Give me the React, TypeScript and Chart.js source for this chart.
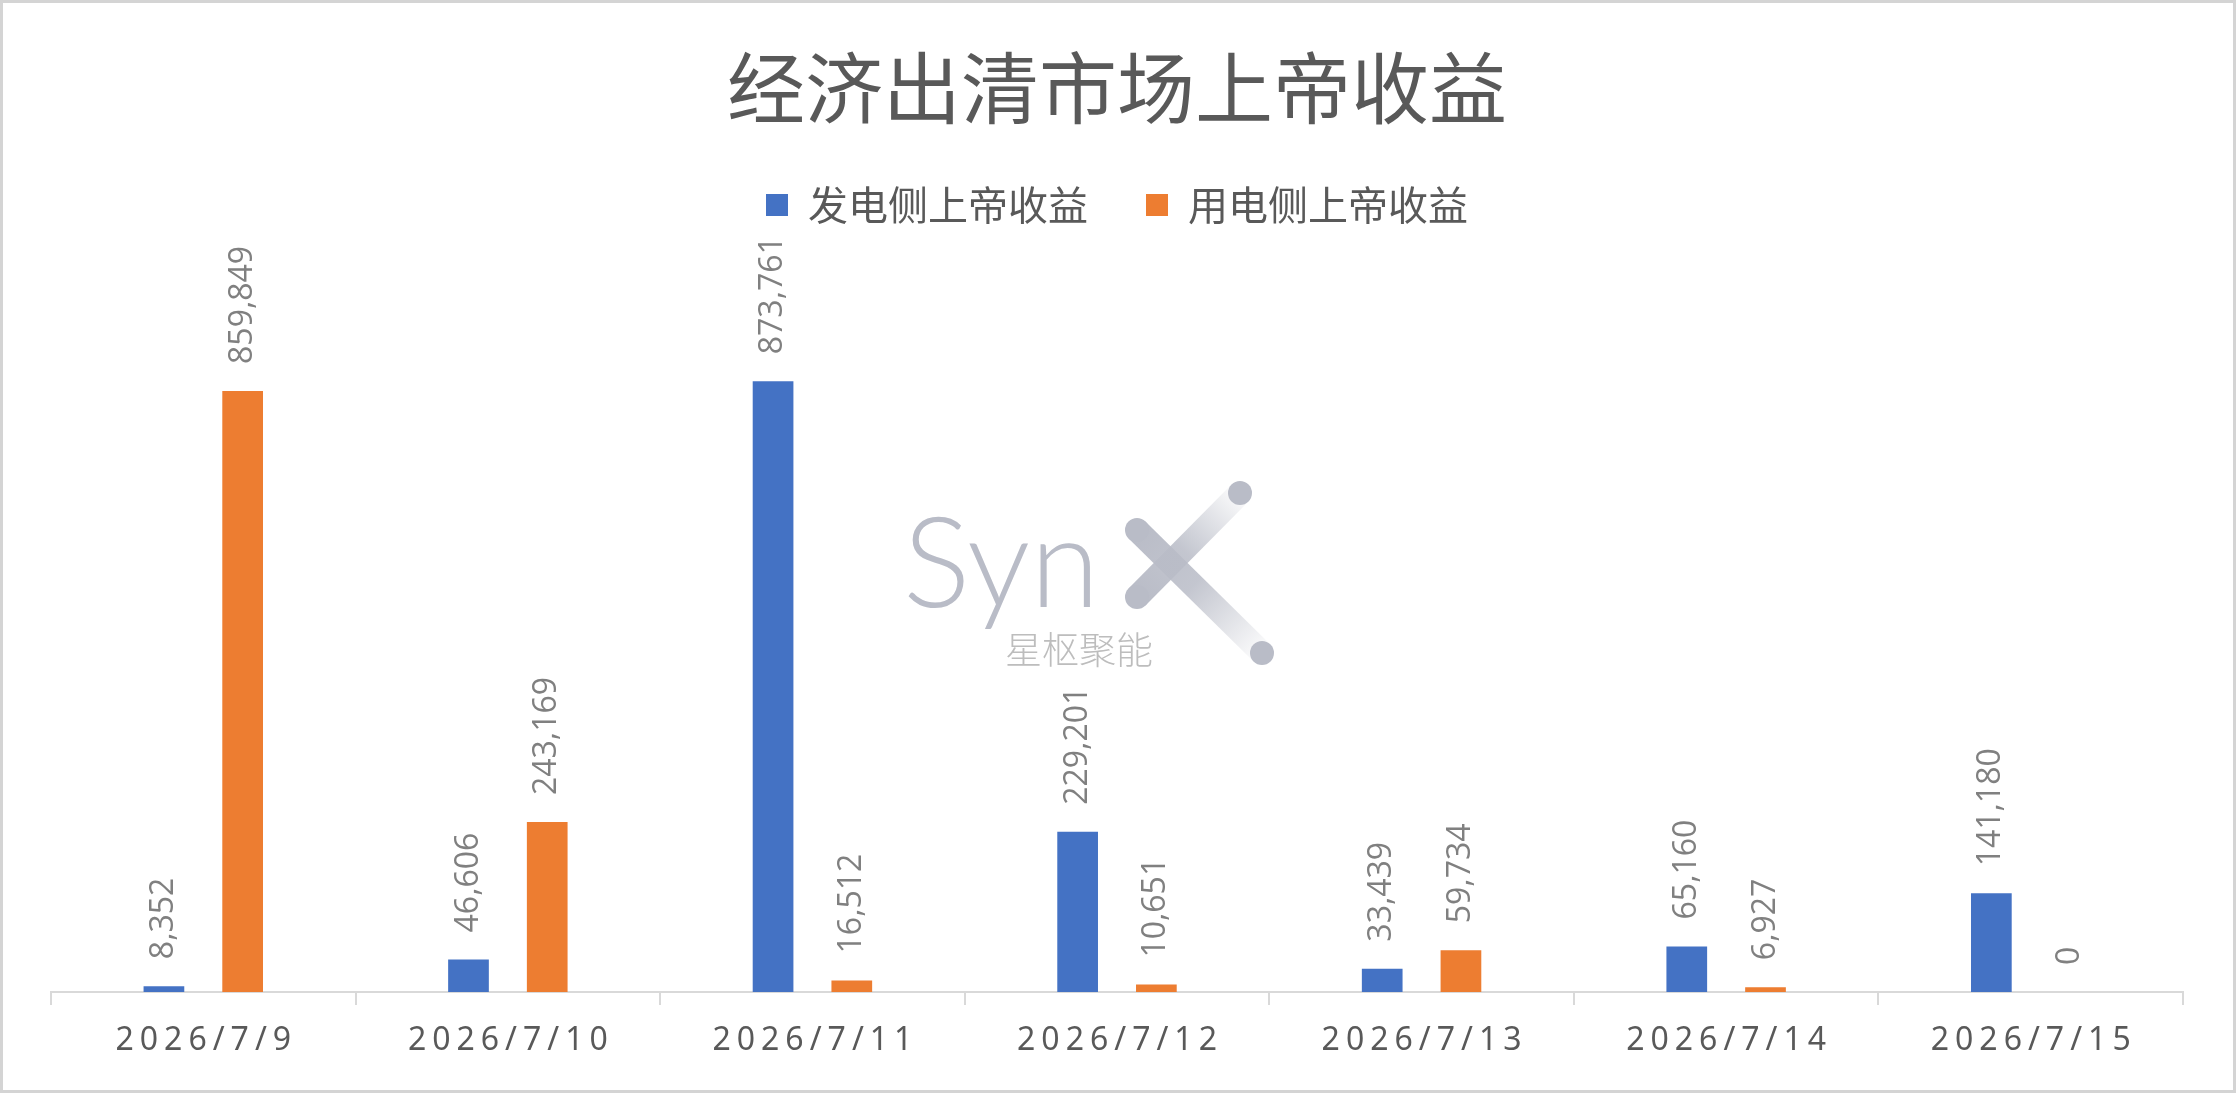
import React, { useEffect, useRef } from "react";
import { Chart, registerables } from "chart.js";

Chart.register(...registerables);

const categories = ["2026/7/9", "2026/7/10", "2026/7/11", "2026/7/12", "2026/7/13", "2026/7/14", "2026/7/15"];
const genValues = [8352, 46606, 873761, 229201, 33439, 65160, 141180];
const loadValues = [859849, 243169, 16512, 10651, 59734, 6927, 0];
const seriesNames = ["发电侧上帝收益", "用电侧上帝收益"];
const titleText = "经济出清市场上帝收益";
const yMax = 1000000;

const W = 2236;
const H = 1093;

const bgPlugin = {
  id: "bgFrame",
  beforeDraw(chart: any) {
    const ctx = chart.ctx;
    ctx.save();
    ctx.fillStyle = "#ffffff";
    ctx.fillRect(0, 0, chart.width, chart.height);
    ctx.strokeStyle = "#d4d4d4";
    ctx.lineWidth = 3;
    ctx.strokeRect(1.5, 1.5, chart.width - 3, chart.height - 3);
    ctx.restore();
  },
};

const watermarkPlugin = {
  id: "watermark",
  beforeDatasetsDraw(chart: any) {
    const ctx = chart.ctx;
    ctx.save();
    const c = "#b9bcc7";
    const bar = (x1: number, y1: number, x2: number, y2: number) => {
      const g = ctx.createLinearGradient(x1, y1, x2, y2);
      g.addColorStop(0, "rgba(185,188,199,1)");
      g.addColorStop(0.45, "rgba(185,188,199,0.85)");
      g.addColorStop(1, "rgba(185,188,199,0.05)");
      ctx.strokeStyle = g;
      ctx.lineWidth = 24;
      ctx.lineCap = "butt";
      ctx.beginPath();
      ctx.moveTo(x1, y1);
      ctx.lineTo(x2, y2);
      ctx.stroke();
    };
    bar(1137, 597, 1240, 493);
    bar(1137, 530, 1262, 653);
    ctx.fillStyle = c;
    [[1240, 493], [1137, 530], [1137, 597], [1262, 653]].forEach(([x, y]) => {
      ctx.beginPath();
      ctx.arc(x, y, 12, 0, Math.PI * 2);
      ctx.fill();
    });
    ctx.fillStyle = c;
    ctx.font = "300 126px Lato";
    ctx.textAlign = "left";
    ctx.textBaseline = "alphabetic";
    ctx.fillText("Syn", 903, 607);
    ctx.fillStyle = "#bdbdbd";
    ctx.font = "300 37px 'Noto Sans CJK SC'";
    ctx.fillText("星枢聚能", 1005, 664);
    ctx.restore();
  },
};

const dataLabelPlugin = {
  id: "dataLabels",
  afterDatasetsDraw(chart: any) {
    const ctx = chart.ctx;
    ctx.save();
    ctx.fillStyle = "#808080";
    ctx.font = "32px 'Open Sans'";
    ctx.textAlign = "left";
    ctx.textBaseline = "middle";
    chart.data.datasets.forEach((ds: any, di: number) => {
      const meta = chart.getDatasetMeta(di);
      meta.data.forEach((el: any, i: number) => {
        const v = ds.data[i];
        const txt = Number(v).toLocaleString("en-US");
        ctx.save();
        ctx.translate(el.x, el.y - 27);
        ctx.rotate(-Math.PI / 2);
        ctx.fillText(txt, 0, 0);
        ctx.restore();
      });
    });
    ctx.restore();
  },
};

const xLabelPlugin = {
  id: "xLabels",
  afterDraw(chart: any) {
    const ctx = chart.ctx;
    const xs = chart.scales.x;
    ctx.save();
    ctx.fillStyle = "#595959";
    ctx.font = "32px 'Noto Sans'";
    (ctx as any).letterSpacing = "6px";
    ctx.textAlign = "center";
    ctx.textBaseline = "middle";
    const y = chart.chartArea.bottom + 49;
    categories.forEach((lab, i) => {
      ctx.fillText(lab, xs.getPixelForValue(i) + 3, y);
    });
    (ctx as any).letterSpacing = "0px";
    ctx.restore();
  },
};

const legendGapPlugin = {
  id: "legendGap",
  beforeInit(chart: any) {
    const legend = chart.legend;
    if (!legend) return;
    const origFit = legend.fit;
    legend.fit = function () {
      origFit.call(this);
      this.height += 58;
    };
  },
};

export default function App() {
  const ref = useRef<HTMLCanvasElement | null>(null);
  useEffect(() => {
    if (!ref.current) return;
    const chart = new Chart(ref.current, {
      type: "bar",
      data: {
        labels: categories,
        datasets: [
          {
            label: seriesNames[0],
            data: genValues,
            backgroundColor: "#4472C4",
            borderWidth: 0,
            categoryPercentage: 0.517,
            barPercentage: 0.517,
          },
          {
            label: seriesNames[1],
            data: loadValues,
            backgroundColor: "#ED7D31",
            borderWidth: 0,
            categoryPercentage: 0.517,
            barPercentage: 0.517,
          },
        ],
      },
      options: {
        responsive: false,
        animation: false,
        devicePixelRatio: 1,
        layout: { padding: { top: 49, left: 51, right: 53, bottom: 88 } },
        plugins: {
          title: {
            display: true,
            text: titleText,
            color: "#595959",
            font: { family: "'Noto Sans CJK SC'", size: 78, weight: "normal", lineHeight: 1.0 },
            padding: { top: 0, bottom: 0 },
          },
          legend: {
            display: true,
            position: "top",
            labels: {
              color: "#595959",
              font: { family: "'Noto Sans CJK SC'", size: 40 },
              boxWidth: 22,
              boxHeight: 22,
              padding: 58,
            },
          },
          tooltip: { enabled: false },
        },
        scales: {
          x: {
            grid: {
              display: true,
              drawOnChartArea: false,
              drawTicks: true,
              tickLength: 13,
              color: "#d9d9d9",
              lineWidth: 2,
              offset: true,
            },
            border: { display: true, color: "#d9d9d9", width: 2 },
            ticks: { display: false },
          },
          y: {
            display: false,
            min: 0,
            max: yMax,
          },
        },
      },
      plugins: [bgPlugin, watermarkPlugin, dataLabelPlugin, xLabelPlugin, legendGapPlugin],
    });
    return () => chart.destroy();
  }, []);
  return (
    <div style={{ position: "fixed", left: 0, top: 0, width: W, height: H, background: "#fff" }}>
      <canvas ref={ref} width={W} height={H} style={{ width: W, height: H, display: "block" }} />
    </div>
  );
}
